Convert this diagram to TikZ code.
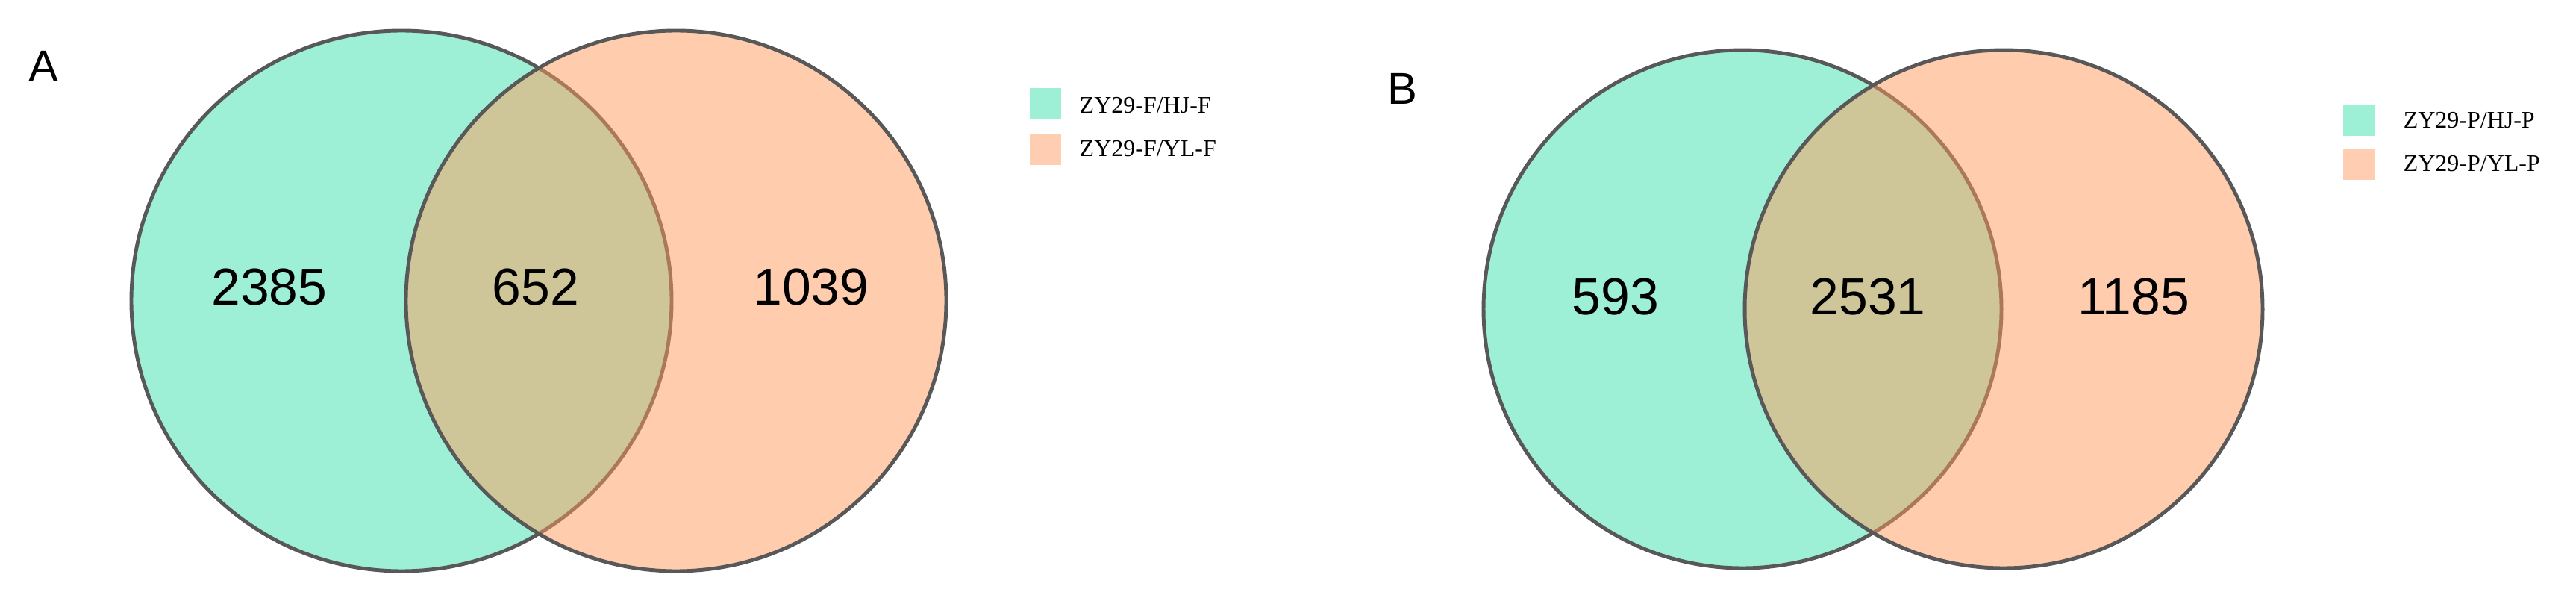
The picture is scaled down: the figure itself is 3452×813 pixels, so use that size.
\documentclass[tikz,border=0pt]{standalone}
\usepackage{fontspec}
\setmainfont{Liberation Sans}
\newfontfamily\legfont{Liberation Serif}
\definecolor{teal1}{RGB}{157,240,214}
\definecolor{peachA}{RGB}{255,155,92}
\definecolor{peach1}{RGB}{255,206,178}
\definecolor{edgec}{RGB}{88,88,88}
\tikzset{
  setL/.style={fill=teal1, draw=edgec, line width=1.4pt},
  setR/.style={fill=peachA, fill opacity=0.5, draw=edgec, draw opacity=1, line width=1.4pt},
  num/.style={font=\fontsize{19.8pt}{22pt}\selectfont, inner sep=0pt},
  panel/.style={font=\fontsize{17pt}{19pt}\selectfont, inner sep=0pt},
  legtxt/.style={font=\legfont\fontsize{9.1pt}{10pt}\selectfont, inner sep=0pt, anchor=base west},
  legbox/.style={rectangle, inner sep=0pt, minimum width=0.42cm, minimum height=0.42cm}
}
\begin{document}
\begin{tikzpicture}[x=0.01cm,y=-0.01cm]
\useasboundingbox (0,0) rectangle (3452,813);
\fill[white] (0,0) rectangle (3452,813);
% Panel A
\node[panel] (labA) at (58,89) {A};
\draw[setL] (538,403) circle[radius=362];
\draw[setR] (906,403) circle[radius=362];
\node[num] (a1) at (361,385) {2385};
\node[num] (a2) at (718,385) {652};
\node[num] (a3) at (1087,385) {1039};
\node[legbox, fill=teal1] (lA1) at (1401,139) {};
\node[legbox, fill=peach1] (lA2) at (1401,200) {};
\node[legtxt] (tA1) at (1446,152) {ZY29-F/HJ-F};
\node[legtxt] (tA2) at (1446,210) {ZY29-F/YL-F};
% Panel B
\node[panel] (labB) at (1879,119) {B};
\draw[setL] (2335,414) circle[radius=347];
\draw[setR] (2685,414) circle[radius=347];
\node[num] (b1) at (2165,398) {593};
\node[num] (b2) at (2503,398) {2531};
\node[num] (b3) at (2859,398) {1185};
\node[legbox, fill=teal1] (lB1) at (3161,161) {};
\node[legbox, fill=peach1] (lB2) at (3161,220) {};
\node[legtxt] (tB1) at (3220,172) {ZY29-P/HJ-P};
\node[legtxt] (tB2) at (3220,230) {ZY29-P/YL-P};
\end{tikzpicture}
\end{document}
